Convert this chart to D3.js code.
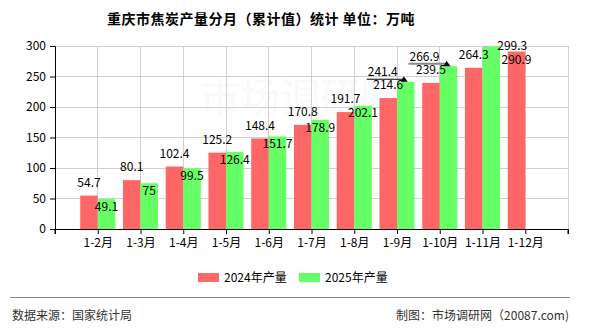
<!DOCTYPE html>
<html><head><meta charset="utf-8">
<script src="https://cdn.jsdelivr.net/npm/d3@7/dist/d3.min.js"></script>
<style>
body{margin:0;background:#fff;}
svg{display:block;font-family:"Noto Sans CJK SC","Noto Sans",sans-serif;}
</style></head>
<body><svg id="c" width="590" height="330"></svg>
<script>
const categories = ["1-2月","1-3月","1-4月","1-5月","1-6月","1-7月","1-8月","1-9月","1-10月","1-11月","1-12月"];
const values2024 = [54.7, 80.1, 102.4, 125.2, 148.4, 170.8, 191.7, 214.6, 239.5, 264.3, 290.9];
const values2025 = [49.1, 75, 99.5, 126.4, 151.7, 178.9, 202.1, 241.4, 266.9, 299.3, null];
const seriesNames = ["2024年产量", "2025年产量"];
const yTicks = [0, 50, 100, 150, 200, 250, 300];
const titleText = "重庆市焦炭产量分月（累计值）统计  单位：万吨";
const sourceText = "数据来源：国家统计局";
const creditText = "制图：市场调研网（20087.com)";

const colors = ["#ff6666", "#66ff66"];
// label nudges (layout only): [series, index, dx, dy, leaderStyle]
const nudges = [
  [1, 7, -23, -17, "black"],
  [1, 8, -24, -17, "gray"],
  [1, 9, 21, -8.5, null],
  [0, 10, 0, 21, null]
];

const svg = d3.select("#c");
const L = 55, R = 568, T = 46, B = 229;
const x = d3.scalePoint().domain(categories).range([L, R]).padding(1);
const step = x.step();
const bw = step * 0.41;
const y = d3.scaleLinear().domain([0, 300]).range([B, T]);

// watermark
svg.append("text").attr("x", 300).attr("y", 112).attr("text-anchor", "middle")
  .attr("font-size", 40).attr("fill", "#000").attr("opacity", 0.018).text("市场调研网");

// horizontal grid
svg.append("g").selectAll("line").data(yTicks.filter(d => d > 0)).join("line")
  .attr("x1", L).attr("x2", R).attr("y1", d => y(d)).attr("y2", d => y(d))
  .attr("stroke", "#d0d0d0").attr("stroke-width", 1).attr("shape-rendering", "crispEdges");
// vertical grid
svg.append("g").selectAll("line").data(categories).join("line")
  .attr("x1", d => x(d)).attr("x2", d => x(d)).attr("y1", T).attr("y2", B)
  .attr("stroke", "#d0d0d0").attr("shape-rendering", "crispEdges");
svg.append("line").attr("x1", R).attr("x2", R).attr("y1", T).attr("y2", B)
  .attr("stroke", "#d0d0d0").attr("shape-rendering", "crispEdges");

// bars
const series = [values2024, values2025];
series.forEach((vals, s) => {
  svg.append("g").selectAll("rect").data(vals.map((v, i) => ({v, c: categories[i]})).filter(d => d.v != null))
    .join("rect")
    .attr("x", d => s === 0 ? x(d.c) - bw : x(d.c))
    .attr("width", bw)
    .attr("y", d => y(d.v)).attr("height", d => B - y(d.v))
    .attr("fill", colors[s]);
});

// y axis
const ya = svg.append("g").attr("transform", `translate(${L},0)`)
  .call(d3.axisLeft(y).tickValues(yTicks).tickSize(5).tickPadding(4).tickFormat(d3.format("d")));
ya.select(".domain").attr("stroke", "#000");
ya.selectAll("text").attr("font-size", 12).attr("fill", "#000").attr("font-family", "Noto Sans CJK SC");
ya.selectAll(".tick line").attr("stroke", "#000");

// x axis
const xa = svg.append("g").attr("transform", `translate(0,${B})`)
  .call(d3.axisBottom(x).tickSize(5).tickPadding(4).tickSizeOuter(5));
xa.select(".domain").attr("stroke", "#000");
xa.selectAll("text").attr("font-size", 12).attr("fill", "#000").attr("font-family", "Noto Sans CJK SC");
xa.selectAll(".tick line").attr("stroke", "#000");
xa.append("line").attr("x1", L).attr("x2", L).attr("y1", 0).attr("y2", 5).attr("stroke", "#000");
xa.append("line").attr("x1", R).attr("x2", R).attr("y1", 0).attr("y2", 5).attr("stroke", "#000");

// value labels
const lg = svg.append("g").attr("font-size", 12).attr("fill", "#000");
series.forEach((vals, s) => {
  vals.forEach((v, i) => {
    if (v == null) return;
    const c = categories[i];
    let cx = s === 0 ? x(c) - bw / 2 : x(c) + bw / 2;
    let cy = s === 0 ? y(v) - 13 : y(v) + 7.5;
    const n = nudges.find(d => d[0] === s && d[1] === i);
    if (n) {
      const tipX = cx - 1;
      cx += n[2]; cy += n[3];
      if (n[4]) {
        const ly = cy + 7;
        lg.append("line").attr("x1", cx - 16).attr("x2", tipX - 2).attr("y1", ly).attr("y2", ly)
          .attr("stroke", n[4] === "gray" ? "#888" : "#000").attr("stroke-width", n[4] === "gray" ? 2 : 1);
        lg.append("path").attr("d", `M${tipX - 4},${ly + 2.5}L${tipX - 1},${ly - 3}L${tipX + 3},${ly + 2.5}Z`).attr("fill", "#000");
      }
    }
    lg.append("text").attr("x", cx).attr("y", cy).attr("dy", "0.35em")
      .attr("text-anchor", "middle").text(d3.format("")(v));
  });
});

// title
svg.append("text").attr("x", 261).attr("y", 19).attr("dy", "0.35em").attr("text-anchor", "middle")
  .attr("font-size", 14).attr("font-weight", "bold").attr("letter-spacing", 0.5).attr("fill", "#000").text(titleText);

// legend
const legX = [198, 299];
seriesNames.forEach((nm, s) => {
  svg.append("rect").attr("x", legX[s]).attr("y", 273).attr("width", 21).attr("height", 9).attr("fill", colors[s]);
  svg.append("text").attr("x", legX[s] + 26).attr("y", 277.5).attr("dy", "0.35em")
    .attr("font-size", 12).attr("fill", "#000").text(nm);
});

// footer
svg.append("line").attr("x1", 10).attr("x2", 570).attr("y1", 297.5).attr("y2", 297.5).attr("stroke", "#888");
svg.append("text").attr("x", 12).attr("y", 316).attr("dy", "0.35em").attr("font-size", 12).attr("fill", "#333").text(sourceText);
svg.append("text").attr("x", 569).attr("y", 316).attr("dy", "0.35em").attr("text-anchor", "end").attr("font-size", 12).attr("fill", "#333").text(creditText);
</script>
</body></html>
